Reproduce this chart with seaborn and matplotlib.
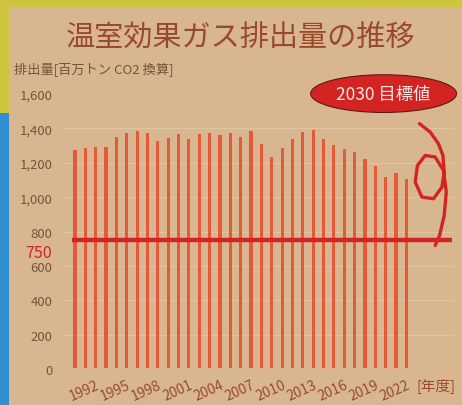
import matplotlib
matplotlib.use('Agg')
import matplotlib.pyplot as plt
import matplotlib.patches as mpatches
import seaborn as sns
import pandas as pd

# emissions, million t CO2 equivalent, fiscal years 1990-2022
years = list(range(1990, 2023))
emissions = [1272, 1286, 1295, 1292, 1350, 1371, 1383, 1374, 1325, 1346,
             1368, 1340, 1368, 1374, 1364, 1371, 1350, 1383, 1307, 1234,
             1288, 1338, 1381, 1391, 1340, 1301, 1282, 1266, 1222, 1183,
             1117, 1140, 1107]
target_2030 = 750
tick_years = list(range(1992, 2023, 3))
y_ticks = [0, 200, 400, 600, 800, 1000, 1200, 1400, 1600]

# hand drawn curl next to the target line (bar index, value)
curl_x = [33.27, 34.30, 35.10, 35.53, 35.65, 35.43, 34.62, 33.50, 32.85,
          33.07, 33.82, 34.78, 35.58, 35.85, 35.65, 35.20, 34.78]
curl_y = [1428, 1379, 1311, 1243, 1146, 1059, 991, 1001, 1088,
          1185, 1243, 1234, 1156, 1030, 893, 777, 719]

BG = '#D8B790'
BROWN = '#9A4A2C'
TICK_BROWN = '#7A5238'
BAR_COLOR = '#E5583A'
RED = '#D42422'


def seaborn_settings():
    '''
    Applies the seaborn theme with the poster colours and a Japanese font
    '''
    sns.set_theme(style='whitegrid', rc={
        'figure.facecolor': BG,
        'axes.facecolor': BG,
        'grid.color': '#E0C5A2',
        'grid.linewidth': 0.8,
        'axes.edgecolor': BG,
    })
    plt.rcParams['font.family'] = ['Noto Sans CJK JP', 'DejaVu Sans']


def draw_chart():
    '''
    Draws the emission bars, the 2030 target line and the labels,
    then saves the figure as out.png
    '''
    df = pd.DataFrame({'year': [str(y) for y in years], 'emissions': emissions})

    fig = plt.figure(figsize=(4.62, 4.06), dpi=100)
    ax = fig.add_axes([0.134, 0.0887, 0.851, 0.677])

    sns.barplot(data=df, x='year', y='emissions', color=BAR_COLOR,
                width=0.3, saturation=1, linewidth=0, edgecolor='none', ax=ax)

    ax.hlines(target_2030, -0.3, 36.4, color=RED, linewidth=3.2, zorder=5)
    ax.plot(curl_x, curl_y, color=RED, linewidth=2.4,
            solid_capstyle='round', solid_joinstyle='round', clip_on=False, zorder=6)

    ax.set_xlim(-1.26, 36.7)
    ax.set_ylim(0, 1600)
    ax.set_xlabel('')
    ax.set_ylabel('')
    ax.grid(axis='x', visible=False)

    ax.set_xticks([years.index(y) for y in tick_years])
    ax.set_xticklabels([str(y) for y in tick_years], rotation=24, ha='right',
                       rotation_mode='anchor', color=BROWN, fontsize=10)
    ax.tick_params(axis='x', pad=6, length=0)

    ax.set_yticks(y_ticks)
    ax.set_yticklabels([f'{v:,}' for v in y_ticks], color=TICK_BROWN, fontsize=9.5)
    ax.tick_params(axis='y', pad=7, length=0)

    # target value label sits between 800 and 600, as on the poster
    ax.annotate(str(target_2030), xy=(0, target_2030), xycoords=('axes fraction', 'data'),
                xytext=(-7, -9), textcoords='offset points', color=RED,
                fontsize=11.5, ha='right', va='center')

    ax.text(36.7, -50, '[年度]', color=BROWN, fontsize=10.5,
            ha='right', va='top', clip_on=False)

    ax.text(29.8, 1603, '2030 目標値', color='#F6E8E4', fontsize=12.5,
            ha='center', va='center', clip_on=False, zorder=7,
            bbox=dict(boxstyle='ellipse,pad=0.25', facecolor=RED,
                      edgecolor='#5A1A14', linewidth=0.8))

    fig.text(0.52, 0.905, '温室効果ガス排出量の推移', color=BROWN,
             fontsize=21, ha='center', va='center')
    fig.text(0.03, 0.828, '排出量[百万トン CO2 換算]', color=TICK_BROWN,
             fontsize=9.5, ha='left', va='center')

    # poster frame seen at the edges of the photo
    fig.patches.append(mpatches.Rectangle((0, 0.98), 1, 0.02, transform=fig.transFigure,
                                          facecolor='#CFC43E', edgecolor='none'))
    fig.patches.append(mpatches.Rectangle((0, 0.72), 0.02, 0.28, transform=fig.transFigure,
                                          facecolor='#CFC43E', edgecolor='none'))
    fig.patches.append(mpatches.Rectangle((0, 0), 0.02, 0.72, transform=fig.transFigure,
                                          facecolor='#2F8FD0', edgecolor='none'))

    fig.savefig('out.png', dpi=100, facecolor=BG)


seaborn_settings()
draw_chart()
